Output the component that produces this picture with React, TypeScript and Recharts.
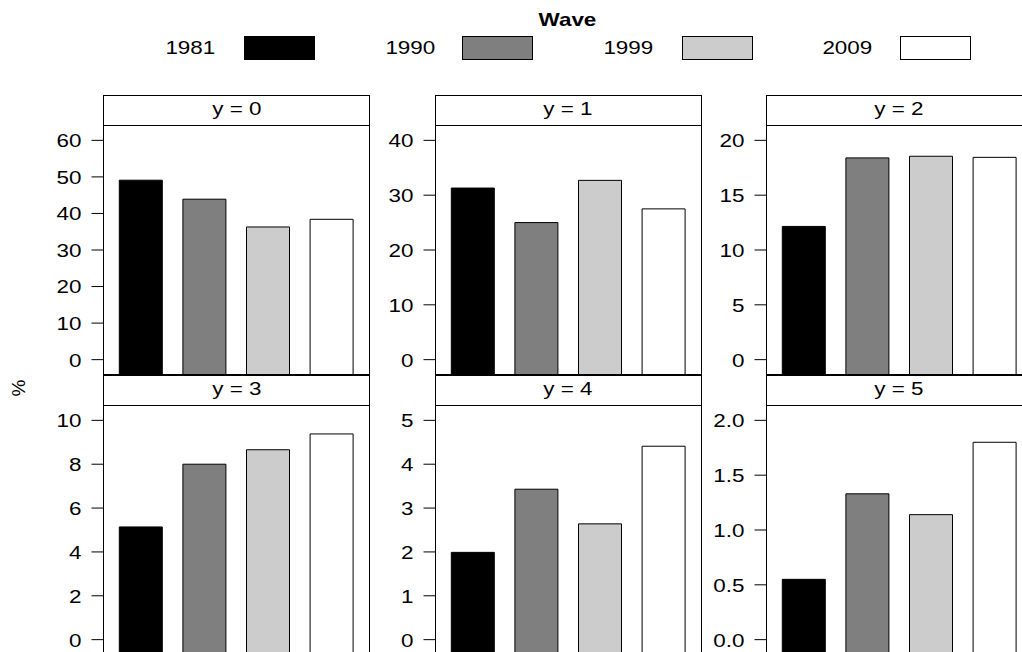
import React from "react";
import { BarChart, Bar, XAxis, YAxis, Cell } from "recharts";

const WAVES = ["1981", "1990", "1999", "2009"];
const WAVE_FILLS = ["#000000", "#7f7f7f", "#cccccc", "#ffffff"];

// share (%) per wave, one array per panel
const Y0 = [49.1, 43.9, 36.3, 38.4];
const Y1 = [31.3, 25.0, 32.7, 27.5];
const Y2 = [12.15, 18.4, 18.55, 18.45];
const Y3 = [5.14, 8.0, 8.66, 9.38];
const Y4 = [1.99, 3.43, 2.64, 4.41];
const Y5 = [0.55, 1.33, 1.14, 1.8];

const TICKS0 = [0, 10, 20, 30, 40, 50, 60];
const TICKS1 = [0, 10, 20, 30, 40];
const TICKS2 = [0, 5, 10, 15, 20];
const TICKS3 = [0, 2, 4, 6, 8, 10];
const TICKS4 = [0, 1, 2, 3, 4, 5];
const TICKS5 = [0, 0.5, 1, 1.5, 2];

const PANELS = [
  { label: "y = 0", values: Y0, ticks: TICKS0, digits: 0 },
  { label: "y = 1", values: Y1, ticks: TICKS1, digits: 0 },
  { label: "y = 2", values: Y2, ticks: TICKS2, digits: 0 },
  { label: "y = 3", values: Y3, ticks: TICKS3, digits: 0 },
  { label: "y = 4", values: Y4, ticks: TICKS4, digits: 0 },
  { label: "y = 5", values: Y5, ticks: TICKS5, digits: 1 },
];

const FONT = '"Liberation Sans", Arial, sans-serif';
const FS = 19;
const STRETCH = 1.18; // the original text is a little wider than plain Arial
const PANEL_W = 267;
const STRIP_H = 30;
const PLOT_H = 250;
const AXIS_W = 103;

const WideTick = ({ x, y, payload, digits }: any) => (
  <text
    transform={`translate(${x},${y}) scale(${STRETCH},1)`}
    textAnchor="end"
    dominantBaseline="central"
    fontSize={FS}
    fill="#000"
  >
    {Number(payload.value).toFixed(digits)}
  </text>
);

const Stretched = ({ children, origin = "center" }: any) => (
  <span style={{ display: "inline-block", transform: `scaleX(${STRETCH})`, transformOrigin: origin }}>{children}</span>
);

const Panel = ({ p, col, row }: any) => {
  const max = p.ticks[p.ticks.length - 1];
  const lo = -0.07 * max;
  const hi = 1.07 * max;
  const data = WAVES.map((w, i) => ({ wave: w, range: [lo, p.values[i]] }));
  const frameLeft = 103.3 + 331.2 * col;
  const plotTop = 125 + 280 * row;

  return (
    <>
      <div style={{ position: "absolute", left: frameLeft - AXIS_W, top: plotTop }}>
        <BarChart width={AXIS_W + PANEL_W} height={PLOT_H} data={data} margin={{ top: 0, right: 0, bottom: 0, left: 0 }}>
          <XAxis dataKey="wave" hide padding={{ left: 6.3, right: 6.3 }} />
          <YAxis
            width={AXIS_W}
            type="number"
            domain={[lo, hi]}
            allowDataOverflow
            ticks={p.ticks}
            interval={0}
            axisLine={false}
            tickSize={11.5}
            tickMargin={10}
            tickLine={{ stroke: "#000", strokeWidth: 1 }}
            tick={<WideTick digits={p.digits} />}
          />
          <Bar dataKey="range" barSize={43} stroke="#000" strokeWidth={1} isAnimationActive={false}>
            {data.map((_, i) => (
              <Cell key={i} fill={WAVE_FILLS[i]} />
            ))}
          </Bar>
        </BarChart>
      </div>
      <div
        style={{
          position: "absolute",
          left: frameLeft,
          top: plotTop - STRIP_H,
          width: PANEL_W,
          height: STRIP_H + PLOT_H,
          border: "1px solid #000",
          boxSizing: "border-box",
          pointerEvents: "none",
        }}
      >
        <div
          style={{
            height: STRIP_H,
            background: "#fff",
            borderBottom: "1px solid #000",
            boxSizing: "border-box",
            textAlign: "center",
            fontSize: FS,
            lineHeight: `${STRIP_H - 4}px`,
          }}
        >
          <Stretched>{p.label}</Stretched>
        </div>
      </div>
    </>
  );
};

export default function App() {
  const legendText = [215, 435, 653, 872];
  const legendBox = [244, 462, 682, 900];
  return (
    <div
      style={{
        position: "absolute",
        left: 0,
        top: 0,
        width: 1022,
        height: 652,
        overflow: "hidden",
        background: "#fff",
        fontFamily: FONT,
        color: "#000",
      }}
    >
      <div style={{ position: "absolute", left: 467, width: 200, top: 9, textAlign: "center", fontWeight: "bold", fontSize: FS }}>
        <Stretched>Wave</Stretched>
      </div>
      {WAVES.map((w, i) => (
        <React.Fragment key={w}>
          <div style={{ position: "absolute", left: legendText[i] - 100, width: 100, top: 36, textAlign: "right", fontSize: FS, lineHeight: "24px" }}>
            <Stretched origin="right">{w}</Stretched>
          </div>
          <div
            style={{
              position: "absolute",
              left: legendBox[i],
              top: 36,
              width: 71,
              height: 24,
              background: WAVE_FILLS[i],
              border: "1px solid #000",
              boxSizing: "border-box",
            }}
          />
        </React.Fragment>
      ))}
      <div
        style={{
          position: "absolute",
          left: 19,
          top: 388,
          fontSize: FS,
          transform: "translate(-50%, -50%) rotate(-90deg)",
        }}
      >
        %
      </div>
      {PANELS.map((p, i) => (
        <Panel key={p.label} p={p} col={i % 3} row={Math.floor(i / 3)} />
      ))}
    </div>
  );
}
